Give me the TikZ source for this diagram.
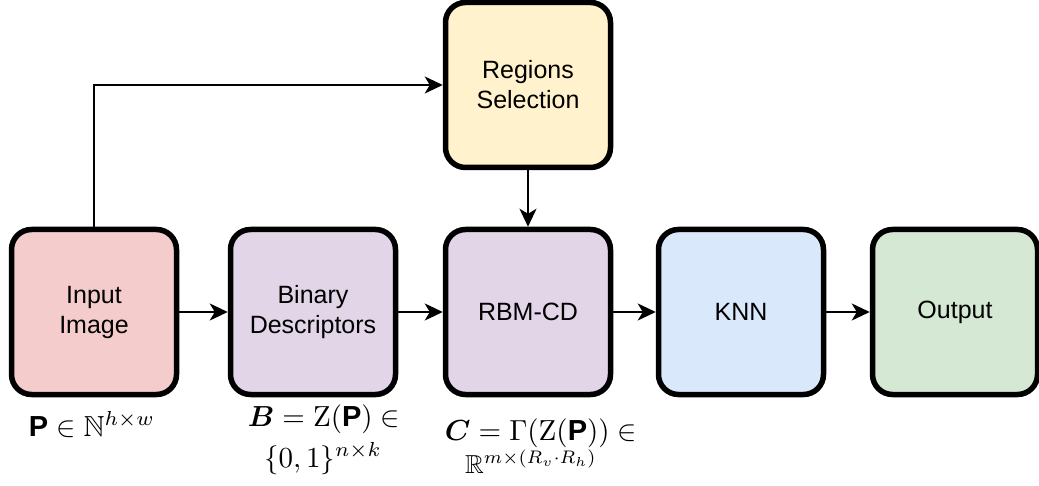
\documentclass[tikz,border=0pt]{standalone}
\usepackage{amsmath,amssymb,bm}
\usepackage[no-math]{fontspec}
\setmainfont{Liberation Sans}
\usetikzlibrary{arrows.meta}

\definecolor{inputfill}{HTML}{F4CCCC}
\definecolor{regionfill}{HTML}{FFF2CC}
\definecolor{procfill}{HTML}{E1D5E7}
\definecolor{knnfill}{HTML}{DAE8FC}
\definecolor{outfill}{HTML}{D5E8D4}

% formulas are set at 10pt and enlarged
\newcommand{\bigeq}[2]{\scalebox{#1}{$#2$}}

\begin{document}
\begin{tikzpicture}[x=1pt,y=-1pt,
  stage/.style={draw, line width=5.5pt, rounded corners=20pt,
    minimum width=165pt, minimum height=165pt, inner sep=0pt,
    align=center, font=\fontsize{25}{30}\selectfont},
  flow/.style={line width=2pt, -{Stealth[length=18pt,width=17pt,inset=5pt]}},
  eq/.style={anchor=base, inner sep=0pt, font=\fontsize{10}{12}\selectfont}]
\useasboundingbox (0,0) rectangle (1039,486);

% pipeline stages
\node[stage, fill=inputfill]  (in)  at (94,312)  {Input\\Image};
\node[stage, fill=procfill]   (bin) at (313,312) {Binary\\Descriptors};
\node[stage, fill=procfill]   (rbm) at (528,312) {RBM-CD};
\node[stage, fill=knnfill]    (knn) at (741,312) {KNN};
\node[stage, fill=outfill]    (out) at (955,312) {Output};
\node[stage, fill=regionfill] (reg) at (528,85)  {Regions\\Selection};

% connectors
\draw[flow] (in) -- (bin);
\draw[flow] (bin) -- (rbm);
\draw[flow] (rbm) -- (knn);
\draw[flow] (knn) -- (out);
\draw[flow] (in.north) |- (reg.west);
\draw[flow] (reg) -- (rbm);

% formulas under the stages
\node[eq] (lp)  at (92,436)  {\bigeq{2.9}{\mbox{\bfseries P}\in\mathbb{N}^{h\times w}}};
\node[eq] (lb1) at (324,426) {\bigeq{2.9}{\bm{B}=\mathrm{Z}(\mbox{\bfseries P})\in}};
\node[eq] (lb2) at (323,467) {\bigeq{2.9}{\{0,1\}^{n\times k}}};
\node[eq] (lc1) at (541,440) {\bigeq{2.9}{\bm{C}=\Gamma(\mathrm{Z}(\mbox{\bfseries P}))\in}};
\node[eq] (lc2) at (531,473) {\bigeq{2.6}{\mathbb{R}^{m\times(R_v\cdot R_h)}}};
\end{tikzpicture}
\end{document}
